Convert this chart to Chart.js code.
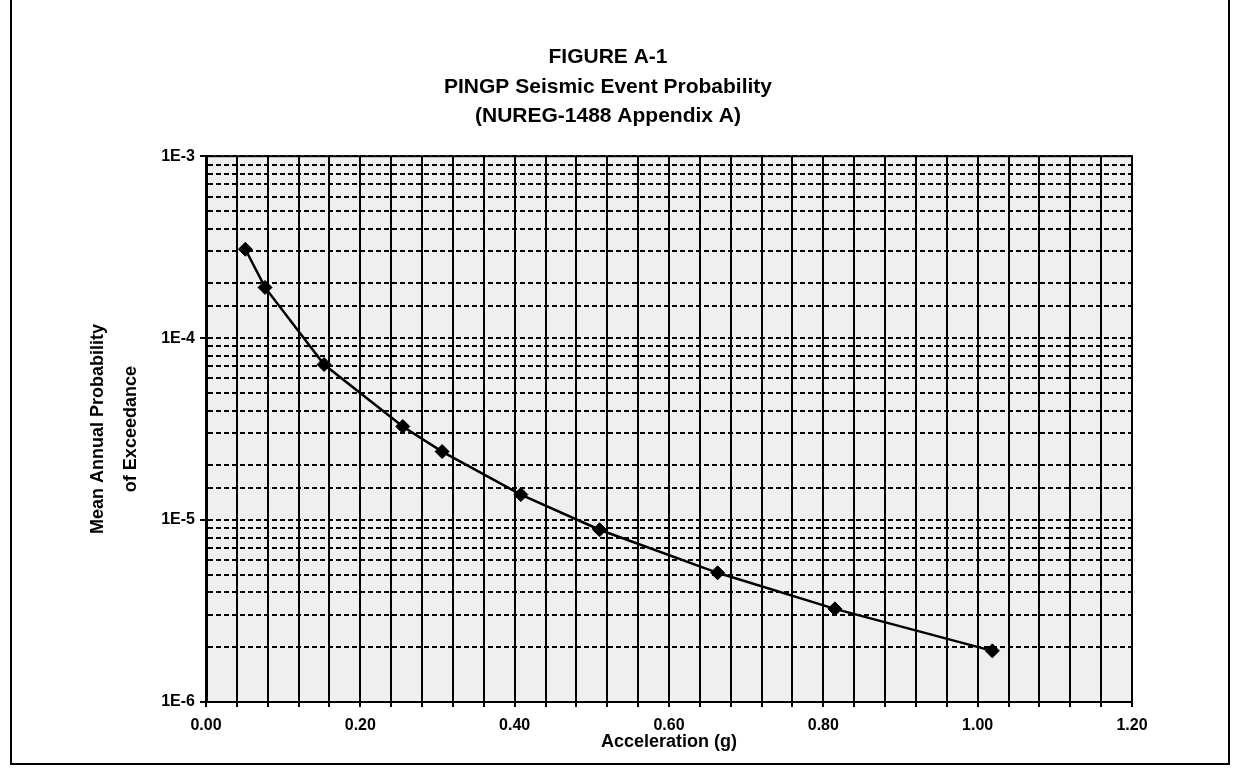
<!DOCTYPE html>
<html>
<head>
<meta charset="utf-8">
<title>PINGP Seismic Event Probability</title>
<script src="https://cdn.jsdelivr.net/npm/chart.js@4.4.1/dist/chart.umd.min.js"></script>
<style>
    html, body { margin: 0; padding: 0; background: #fff; }
    #wrap { position: relative; width: 1237px; height: 768px; }
    #frame {
        position: absolute; left: 10px; top: 0; width: 1216px; height: 763px;
        border-left: 2px solid #000; border-right: 2px solid #000; border-bottom: 2px solid #000;
        pointer-events: none;
    }
    canvas { position: absolute; left: 0; top: 0; }
</style>
</head>
<body>
<div id="wrap">
    <canvas id="chart-seismic" width="1237" height="768"></canvas>
    <div id="frame"></div>
</div>
<script>
// acceleration in g (cm/s2 / 981) and mean annual probability of exceedance
const accelerations = [0.051, 0.0765, 0.153, 0.255, 0.306, 0.408, 0.510, 0.663, 0.815, 1.019];
const probabilities = [3.08e-4, 1.90e-4, 7.16e-5, 3.27e-5, 2.38e-5, 1.38e-5, 8.85e-6, 5.13e-6, 3.25e-6, 1.91e-6];

const titleLines = ['FIGURE A-1', 'PINGP Seismic Event Probability', '(NUREG-1488 Appendix A)'];
const yTitleLines = ['Mean Annual Probability', 'of Exceedance'];
const xTitle = 'Acceleration (g)';

const fontFamily = "'Liberation Sans', Arial, sans-serif";

function isDecade(v) {
    const e = Math.log10(v);
    return Math.abs(e - Math.round(e)) < 1e-9;
}

// light plot background + solid frame round the plot area
const plotFrame = {
    id: 'plotFrame',
    beforeDraw(chart) {
        const {ctx, chartArea: a} = chart;
        ctx.save();
        ctx.fillStyle = '#efefef';
        ctx.fillRect(a.left, a.top, a.right - a.left, a.bottom - a.top);
        ctx.restore();
    },
    afterDatasetsDraw(chart) {
        const {ctx, chartArea: a} = chart;
        ctx.save();
        ctx.setLineDash([]);
        ctx.strokeStyle = '#000';
        ctx.lineWidth = 2;
        ctx.strokeRect(a.left, a.top, a.right - a.left, a.bottom - a.top);
        ctx.restore();
    }
};

const points = accelerations.map((x, i) => ({x: x, y: probabilities[i]}));

new Chart(document.getElementById('chart-seismic'), {
    type: 'line',
    data: {
        datasets: [{
            data: points,
            borderColor: '#000',
            backgroundColor: '#000',
            borderWidth: 2.5,
            tension: 0,
            pointStyle: 'rectRot',
            pointRadius: 7,
            pointBorderWidth: 1
        }]
    },
    options: {
        responsive: false,
        animation: false,
        layout: {padding: {left: 0, right: 21, top: 0, bottom: 0}},
        plugins: {
            legend: {display: false},
            tooltip: {enabled: false},
            title: {
                display: true,
                text: titleLines,
                color: '#000',
                font: {family: fontFamily, size: 21, weight: 'bold', lineHeight: 1.4},
                padding: {top: 43, bottom: 25}
            }
        },
        scales: {
            x: {
                type: 'linear',
                min: 0,
                max: 1.2,
                afterFit: scale => { scale.height = 66; },
                ticks: {
                    stepSize: 0.04,
                    autoSkip: false,
                    maxRotation: 0,
                    padding: 9,
                    color: '#000',
                    font: {family: fontFamily, size: 16, weight: 'bold'},
                    callback: v => (Math.round(v / 0.04) % 5 === 0 ? v.toFixed(2) : '')
                },
                grid: {
                    color: '#000',
                    lineWidth: 2,
                    tickLength: 5,
                    tickColor: '#000'
                },
                border: {color: '#000', width: 2},
                title: {
                    display: true,
                    text: xTitle,
                    color: '#000',
                    font: {family: fontFamily, size: 18, weight: 'bold'},
                    padding: {top: 0, bottom: 15}
                }
            },
            y: {
                type: 'logarithmic',
                min: 1e-6,
                max: 1e-3,
                afterFit: scale => { scale.width = 206; },
                ticks: {
                    autoSkip: false,
                    padding: 5,
                    color: '#000',
                    font: {family: fontFamily, size: 16, weight: 'bold'},
                    callback: v => (isDecade(v) ? '1E' + Math.round(Math.log10(v)) : '')
                },
                grid: {
                    color: '#000',
                    lineWidth: 2,
                    tickLength: 6,
                    tickBorderDash: [],
                    tickColor: ctx => (ctx.tick && isDecade(ctx.tick.value) ? '#000' : 'rgba(0,0,0,0)')
                },
                border: {color: '#000', width: 3, dash: [5, 3]},
                title: {
                    display: true,
                    text: yTitleLines,
                    color: '#000',
                    font: {family: fontFamily, size: 18, weight: 'bold', lineHeight: 1.8},
                    padding: {top: 82, bottom: 0}
                }
            },
            // empty right-hand margin, keeps the plot's right edge at 1.20
            yRight: {
                type: 'linear',
                position: 'right',
                min: 0,
                max: 1,
                afterFit: scale => { scale.width = 84; },
                ticks: {display: false},
                grid: {display: false, drawOnChartArea: false},
                border: {display: false}
            }
        }
    },
    plugins: [plotFrame]
});
</script>
</body>
</html>
